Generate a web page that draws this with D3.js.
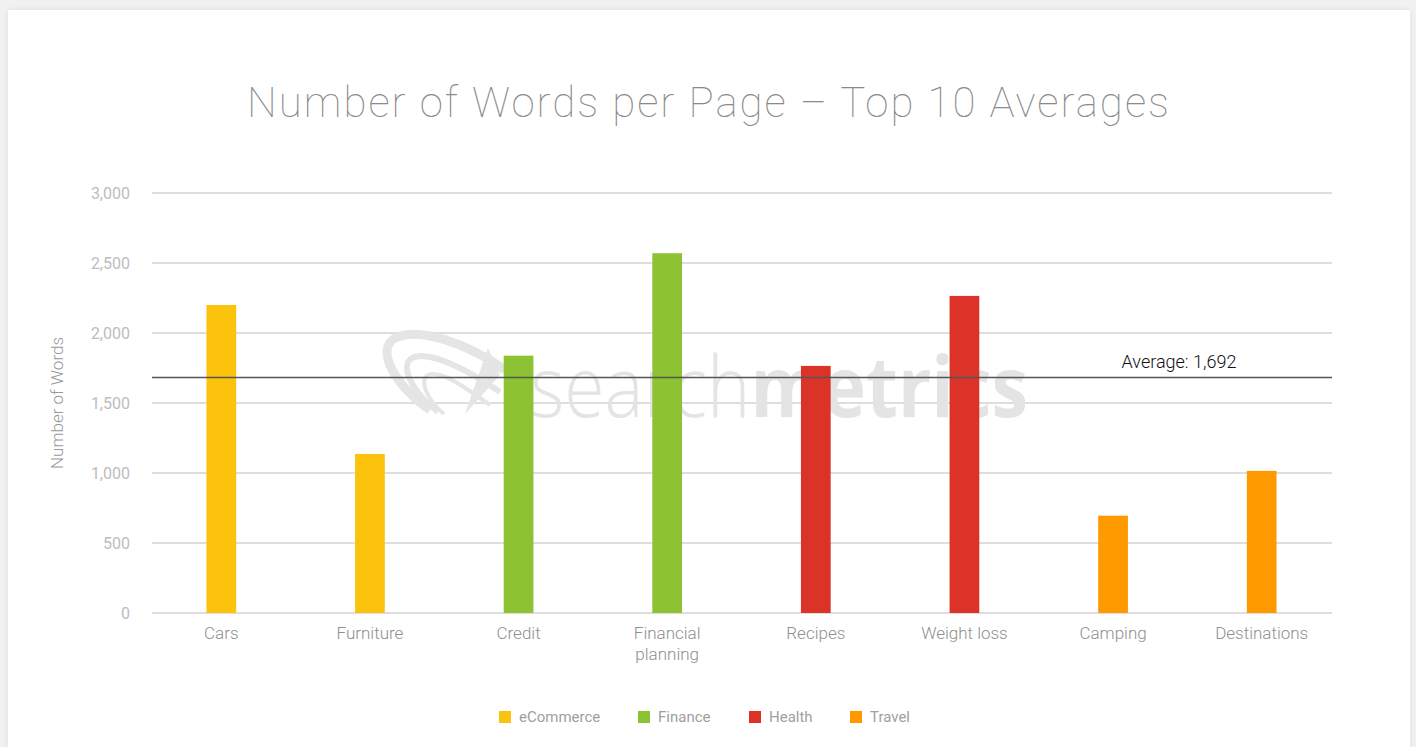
<!DOCTYPE html>
<html>
<head>
<meta charset="utf-8">
<script src="https://cdn.jsdelivr.net/npm/d3@7"></script>
<style>
  html, body { margin: 0; padding: 0; background: #f1f1f1; }
  #card { position: absolute; left: 8px; top: 10px; width: 1402px; height: 737px; background: #fff;
          box-shadow: 0 0 6px rgba(0,0,0,0.08); }
  svg { position: absolute; left: 0; top: 0; }
  text { font-family: Roboto, "Noto Sans", sans-serif; }
</style>
</head>
<body>
<div id="card"></div>
<svg id="chart" width="1416" height="747"></svg>
<script>
// categories and values
var categories = ["Cars", "Furniture", "Credit", "Financial planning", "Recipes", "Weight loss", "Camping", "Destinations"];
var groups = ["eCommerce", "eCommerce", "Finance", "Finance", "Health", "Health", "Travel", "Travel"];
var words = [2200, 1136, 1838, 2570, 1765, 2265, 695, 1015];
var average = 1692;
var yTicks = [0, 500, 1000, 1500, 2000, 2500, 3000];
var legendNames = ["eCommerce", "Finance", "Health", "Travel"];
var legendColors = ["#fcc30c", "#8dc232", "#dc3328", "#ff9900"];

var svg = d3.select("#chart");
var plotLeft = 152, plotRight = 1332, plotTop = 193, plotBottom = 613;

var x = d3.scaleBand().domain(categories).range([147, 1336]).paddingInner(0.8).paddingOuter(0.4);
var y = d3.scaleLinear().domain([0, 3000]).range([plotBottom, plotTop]);
var color = d3.scaleOrdinal().domain(legendNames).range(legendColors);
var fmt = d3.format(",");

// title
svg.append("text")
    .attr("x", 709).attr("y", 117)
    .attr("text-anchor", "middle")
    .style("font-size", "42px").style("font-weight", 100)
    .style("fill", "#8a8a8a").style("letter-spacing", "2px")
    .text("Number of Words per Page \u2013 Top 10 Averages");

// grid
svg.append("g").selectAll("line").data(yTicks).join("line")
    .attr("x1", plotLeft).attr("x2", plotRight)
    .attr("y1", function(d) { return y(d); }).attr("y2", function(d) { return y(d); })
    .style("stroke", "#dedede").style("stroke-width", 2);

// y tick labels
svg.append("g").selectAll("text").data(yTicks).join("text")
    .attr("x", 130).attr("y", function(d) { return y(d) + 6; })
    .attr("text-anchor", "end")
    .style("font-size", "16px").style("fill", "#bdbdbd")
    .text(function(d) { return fmt(d); });

// y axis title
svg.append("text")
    .attr("transform", "translate(63,403) rotate(-90)")
    .attr("text-anchor", "middle")
    .style("font-size", "17px").style("font-weight", 300).style("fill", "#999")
    .text("Number of Words");

// watermark
var wm = svg.append("g").style("fill", "none").style("stroke", "#e5e5e5");
wm.append("path").attr("d", "M430,410 C395,385 375,350 395,338 C420,326 470,345 505,370").style("stroke-width", 9);
wm.append("path").attr("d", "M438,412 C410,390 400,365 412,358 C428,350 465,368 500,392").style("stroke-width", 6);
wm.append("path").attr("d", "M444,414 C425,398 420,380 428,375 C440,370 462,385 490,405").style("stroke-width", 4);
wm.append("path").attr("d", "M465,414 L488,348 L500,375 Z").style("fill", "#e5e5e5").style("stroke", "none");
var wt = svg.append("text").attr("x", 530).attr("y", 417)
    .attr("textLength", 498).attr("lengthAdjust", "spacingAndGlyphs")
    .style("font-family", "'Open Sans', sans-serif").style("font-size", "84px").style("fill", "#e4e4e4");
wt.append("tspan").style("font-weight", 300).text("search");
wt.append("tspan").style("font-weight", 700).text("metrics");

// bars
svg.append("g").selectAll("rect").data(categories).join("rect")
    .attr("x", function(d) { return x(d); })
    .attr("width", x.bandwidth())
    .attr("y", function(d, i) { return y(words[i]); })
    .attr("height", function(d, i) { return plotBottom - y(words[i]); })
    .style("fill", function(d, i) { return color(groups[i]); });

// average line
svg.append("line")
    .attr("x1", plotLeft).attr("x2", plotRight)
    .attr("y1", y(average) + 1.5).attr("y2", y(average) + 1.5)
    .style("stroke", "#555").style("stroke-width", 1.5);
svg.append("text")
    .attr("x", 1179).attr("y", y(average) - 8)
    .attr("text-anchor", "middle")
    .style("font-size", "18px").style("font-weight", 300).style("fill", "#111")
    .text("Average: " + fmt(average));

// x labels
var xl = svg.append("g").selectAll("text").data(categories).join("text")
    .attr("y", 639)
    .attr("text-anchor", "middle")
    .style("font-size", "17px").style("font-weight", 300).style("fill", "#8f8f8f");
xl.each(function(d) {
    var parts = d === "Financial planning" ? ["Financial", "planning"] : [d];
    var t = d3.select(this);
    parts.forEach(function(p, i) {
        t.append("tspan").attr("x", x(d) + x.bandwidth() / 2).attr("dy", i ? 21 : 0).text(p);
    });
});

// legend
var legendX = [499, 638, 749, 850];
var lg = svg.append("g").selectAll("g").data(legendNames).join("g")
    .attr("transform", function(d, i) { return "translate(" + legendX[i] + ",711)"; });
lg.append("rect").attr("width", 12).attr("height", 12).style("fill", function(d) { return color(d); });
lg.append("text").attr("x", 20).attr("y", 11)
    .style("font-size", "15px").style("fill", "#a0a0a0")
    .text(function(d) { return d; });
</script>
</body>
</html>
